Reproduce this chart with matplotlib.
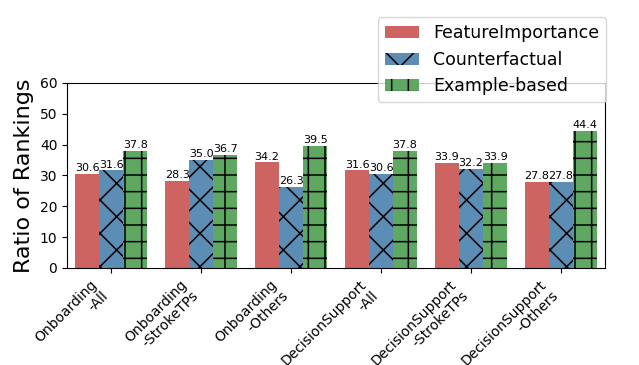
import matplotlib
matplotlib.use("Agg")
import matplotlib.pyplot as plt
import numpy as np

categories = ["Onboarding\n-All", "Onboarding\n-StrokeTPs", "Onboarding\n-Others",
              "DecisionSupport\n-All", "DecisionSupport\n-StrokeTPs", "DecisionSupport\n-Others"]
feature_importance = [30.6, 28.3, 34.2, 31.6, 33.9, 27.8]
counterfactual = [31.6, 35.0, 26.3, 30.6, 32.2, 27.8]
example_based = [37.8, 36.7, 39.5, 37.8, 33.9, 44.4]
series_names = ["FeatureImportance", "Counterfactual", "Example-based"]

plt.rcParams['hatch.linewidth'] = 1.1
fig = plt.figure(figsize=(6.39, 3.65), dpi=100)
ax = fig.add_axes([0.105, 0.266, 0.842, 0.507])

x = np.arange(len(categories))
w = 0.267
colors = ["#cd6462", "#5b8db5", "#5fa862"]
hatches = [None, "x", "+"]
for i, (vals, name) in enumerate(zip([feature_importance, counterfactual, example_based], series_names)):
    bars = ax.bar(x + (i - 1) * w, vals, w, color=colors[i], hatch=hatches[i],
                  edgecolor="black" if hatches[i] else colors[i], linewidth=0, label=name)
    for b, v in zip(bars, vals):
        ax.text(b.get_x() + b.get_width() / 2, v + 0.3, f"{v:.1f}", ha="center", va="bottom", fontsize=8)

ax.set_ylim(0, 60)
ax.set_xlim(-0.49, 5.49)
ax.set_xticks(x)
ax.set_xticklabels(categories, rotation=45, ha="right", fontsize=10)
ax.set_ylabel("Ratio of Rankings", fontsize=16)
ax.tick_params(axis="y", labelsize=10)
ax.legend(loc="upper right", bbox_to_anchor=(1.002, 1.355), fontsize=12.5, borderaxespad=0)
fig.savefig("out.png", dpi=100)
